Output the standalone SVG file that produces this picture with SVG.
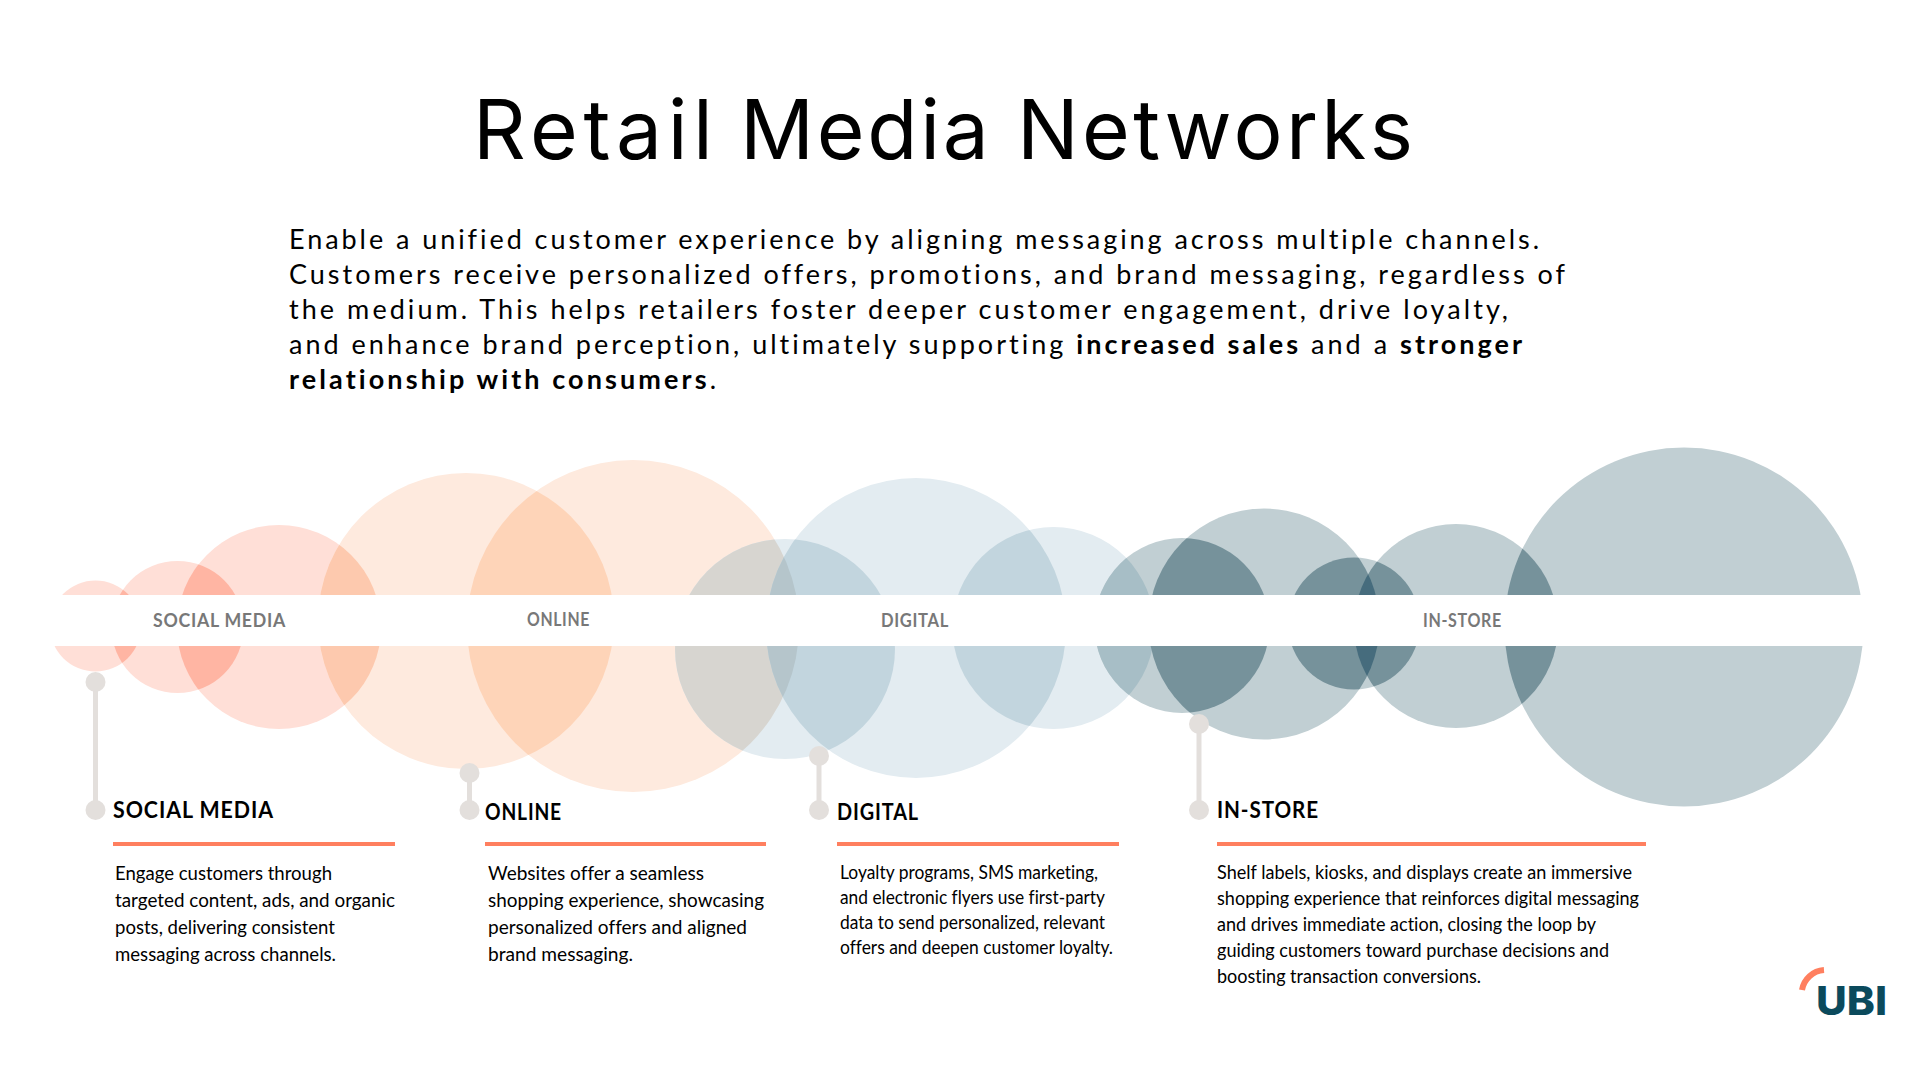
<svg xmlns="http://www.w3.org/2000/svg" width="1920" height="1080" viewBox="0 0 1920 1080">
<style>
text{font-family:"Lato","Liberation Sans",sans-serif;font-variant-ligatures:none}
.title{font-family:"Inter","Liberation Sans",sans-serif;font-size:82px;fill:#000}
.p{font-size:27px;fill:#000}
.b{font-weight:700}
.band{font-size:19.5px;font-weight:700;fill:#787878;letter-spacing:.8px}
.h{font-size:23px;font-weight:700;fill:#000;letter-spacing:1px}
.d{font-size:18.5px;fill:#000}
.dot{fill:#e3dfdc}
.stem{stroke:#e3dfdc;stroke-width:5;fill:none}
.rule{fill:#ff7f5f}
.s{fill:#ffdfd7}.o{fill:#feeade}.u{fill:#e3ecf1}.g{fill:#c1cfd3}
.ss{fill:#ffb5a3}.so{fill:#fdc9ae}.oo{fill:#fed4b8}.og{fill:#d7d5d0}.ogu{fill:#b5c5cb}.uu{fill:#c2d5de}.ug{fill:#a7bec6}.gg{fill:#76929b}.ggg{fill:#466c7d}
</style>
<defs>
<clipPath id="c1"><circle cx="95.5" cy="626" r="45.5"/></clipPath>
<clipPath id="c2"><circle cx="177.5" cy="627" r="66"/></clipPath>
<clipPath id="c3"><circle cx="279" cy="627" r="102"/></clipPath>
<clipPath id="c4"><circle cx="466" cy="621" r="148"/></clipPath>
<clipPath id="c5"><circle cx="633" cy="626" r="166"/></clipPath>
<clipPath id="c6"><circle cx="785" cy="649" r="110"/></clipPath>
<clipPath id="c7"><circle cx="916" cy="628" r="150"/></clipPath>
<clipPath id="c8"><circle cx="1053.5" cy="628" r="101"/></clipPath>
<clipPath id="c9"><circle cx="1182" cy="625.5" r="87.5"/></clipPath>
<clipPath id="c10"><circle cx="1264" cy="624" r="115.5"/></clipPath>
<clipPath id="c11"><circle cx="1354" cy="623.5" r="66"/></clipPath>
<clipPath id="c12"><circle cx="1456" cy="626" r="102"/></clipPath>
<clipPath id="c13"><circle cx="1684" cy="627" r="179.5"/></clipPath>
</defs>
<rect width="1920" height="1080" fill="#fff"/>
<g id="bubbles">
<circle class="s" cx="95.5" cy="626" r="45.5"/>
<circle class="s" cx="177.5" cy="627" r="66"/>
<circle class="s" cx="279" cy="627" r="102"/>
<circle class="o" cx="466" cy="621" r="148"/>
<circle class="o" cx="633" cy="626" r="166"/>
<circle class="u" cx="785" cy="649" r="110"/>
<circle class="u" cx="916" cy="628" r="150"/>
<circle class="u" cx="1053.5" cy="628" r="101"/>
<circle class="g" cx="1182" cy="625.5" r="87.5"/>
<circle class="g" cx="1264" cy="624" r="115.5"/>
<circle class="g" cx="1354" cy="623.5" r="66"/>
<circle class="g" cx="1456" cy="626" r="102"/>
<circle class="g" cx="1684" cy="627" r="179.5"/>
<g clip-path="url(#c1)"><circle class="ss" cx="177.5" cy="627" r="66"/></g>
<g clip-path="url(#c2)"><circle class="ss" cx="279" cy="627" r="102"/></g>
<g clip-path="url(#c3)"><circle class="so" cx="466" cy="621" r="148"/></g>
<g clip-path="url(#c4)"><circle class="oo" cx="633" cy="626" r="166"/></g>
<g clip-path="url(#c5)"><circle class="og" cx="785" cy="649" r="110"/></g>
<g clip-path="url(#c6)"><circle class="uu" cx="916" cy="628" r="150"/></g>
<g clip-path="url(#c5)"><g clip-path="url(#c6)"><circle class="ogu" cx="916" cy="628" r="150"/></g></g>
<g clip-path="url(#c7)"><circle class="uu" cx="1053.5" cy="628" r="101"/></g>
<g clip-path="url(#c8)"><circle class="ug" cx="1182" cy="625.5" r="87.5"/></g>
<g clip-path="url(#c9)"><circle class="gg" cx="1264" cy="624" r="115.5"/></g>
<g clip-path="url(#c10)"><circle class="gg" cx="1354" cy="623.5" r="66"/></g>
<g clip-path="url(#c11)"><circle class="gg" cx="1456" cy="626" r="102"/></g>
<g clip-path="url(#c10)"><circle class="gg" cx="1456" cy="626" r="102"/></g>
<g clip-path="url(#c10)"><g clip-path="url(#c11)"><circle class="ggg" cx="1456" cy="626" r="102"/></g></g>
<g clip-path="url(#c12)"><circle class="gg" cx="1684" cy="627" r="179.5"/></g>
</g>
<rect id="band" x="49" y="595" width="1815" height="51" fill="#fff"/>
<g id="band-labels">
<text class="band" x="153" y="627" textLength="133" lengthAdjust="spacingAndGlyphs">SOCIAL MEDIA</text>
<text class="band" x="527" y="626" textLength="63" lengthAdjust="spacingAndGlyphs">ONLINE</text>
<text class="band" x="881" y="627" textLength="68" lengthAdjust="spacingAndGlyphs">DIGITAL</text>
<text class="band" x="1423" y="627" textLength="79" lengthAdjust="spacingAndGlyphs">IN-STORE</text>
</g>
<text id="title" class="title" y="159"><tspan x="473" letter-spacing="5.5">Retail</tspan> <tspan x="740" letter-spacing="2.7">Media</tspan> <tspan x="1017" letter-spacing="3.3">Networks</tspan></text>
<g id="intro">
<text class="p" x="289" y="249" textLength="1250">Enable a unified customer experience by aligning messaging across multiple channels.</text>
<text class="p" x="289" y="284" textLength="1276">Customers receive personalized offers, promotions, and brand messaging, regardless of</text>
<text class="p" x="289" y="319" textLength="1219">the medium. This helps retailers foster deeper customer engagement, drive loyalty,</text>
<text class="p" x="289" y="354" textLength="1233">and enhance brand perception, ultimately supporting <tspan class="b">increased sales</tspan> and a <tspan class="b">stronger</tspan></text>
<text class="p" x="289" y="389" textLength="427"><tspan class="b">relationship with consumers</tspan>.</text>
</g>
<g id="connectors">
<line class="stem" x1="95.5" y1="682" x2="95.5" y2="810"/>
<line class="stem" x1="469.5" y1="773" x2="469.5" y2="810"/>
<line class="stem" x1="819" y1="756" x2="819" y2="810"/>
<line class="stem" x1="1199" y1="724" x2="1199" y2="810"/>
</g>
<g id="social-media">
<circle class="dot" cx="95.5" cy="682" r="10"/><circle class="dot" cx="95.5" cy="810" r="10"/>
<text class="h" x="113" y="818" textLength="161" lengthAdjust="spacingAndGlyphs">SOCIAL MEDIA</text>
<rect class="rule" x="113" y="842" width="282" height="4"/>
<text class="d" x="115" y="880" textLength="217" lengthAdjust="spacingAndGlyphs">Engage customers through</text>
<text class="d" x="115" y="907" textLength="280" lengthAdjust="spacingAndGlyphs">targeted content, ads, and organic</text>
<text class="d" x="115" y="934" textLength="220" lengthAdjust="spacingAndGlyphs">posts, delivering consistent</text>
<text class="d" x="115" y="961" textLength="221" lengthAdjust="spacingAndGlyphs">messaging across channels.</text>
</g>
<g id="online">
<circle class="dot" cx="469.5" cy="773" r="10"/><circle class="dot" cx="469.5" cy="810" r="10"/>
<text class="h" x="485" y="820" textLength="77" lengthAdjust="spacingAndGlyphs">ONLINE</text>
<rect class="rule" x="485" y="842" width="281" height="4"/>
<text class="d" x="488" y="880" textLength="216" lengthAdjust="spacingAndGlyphs">Websites offer a seamless</text>
<text class="d" x="488" y="907" textLength="276" lengthAdjust="spacingAndGlyphs">shopping experience, showcasing</text>
<text class="d" x="488" y="934" textLength="259" lengthAdjust="spacingAndGlyphs">personalized offers and aligned</text>
<text class="d" x="488" y="961" textLength="145" lengthAdjust="spacingAndGlyphs">brand messaging.</text>
</g>
<g id="digital">
<circle class="dot" cx="819" cy="756" r="10"/><circle class="dot" cx="819" cy="810" r="10"/>
<text class="h" x="837" y="820" textLength="82" lengthAdjust="spacingAndGlyphs">DIGITAL</text>
<rect class="rule" x="837" y="842" width="282" height="4"/>
<text class="d" x="840" y="879" textLength="258" lengthAdjust="spacingAndGlyphs">Loyalty programs, SMS marketing,</text>
<text class="d" x="840" y="904" textLength="265" lengthAdjust="spacingAndGlyphs">and electronic flyers use first-party</text>
<text class="d" x="840" y="929" textLength="265" lengthAdjust="spacingAndGlyphs">data to send personalized, relevant</text>
<text class="d" x="840" y="954" textLength="273" lengthAdjust="spacingAndGlyphs">offers and deepen customer loyalty.</text>
</g>
<g id="in-store">
<circle class="dot" cx="1199" cy="724" r="10"/><circle class="dot" cx="1199" cy="810" r="10"/>
<text class="h" x="1217" y="818" textLength="102" lengthAdjust="spacingAndGlyphs">IN-STORE</text>
<rect class="rule" x="1217" y="842" width="429" height="4"/>
<text class="d" x="1217" y="879" textLength="415" lengthAdjust="spacingAndGlyphs">Shelf labels, kiosks, and displays create an immersive</text>
<text class="d" x="1217" y="905" textLength="422" lengthAdjust="spacingAndGlyphs">shopping experience that reinforces digital messaging</text>
<text class="d" x="1217" y="931" textLength="379" lengthAdjust="spacingAndGlyphs">and drives immediate action, closing the loop by</text>
<text class="d" x="1217" y="957" textLength="392" lengthAdjust="spacingAndGlyphs">guiding customers toward purchase decisions and</text>
<text class="d" x="1217" y="983" textLength="264" lengthAdjust="spacingAndGlyphs">boosting transaction conversions.</text>
</g>
<g id="logo">
<path d="M1802 990A24 24 0 0 1 1824 970" fill="none" stroke="#ff7f5f" stroke-width="6"/>
<text x="1816" y="1015" textLength="71" lengthAdjust="spacingAndGlyphs" style="font-family:Inter,'Liberation Sans',sans-serif;font-size:40px;font-weight:800;fill:#0b4a5c">UBI</text>
</g>
</svg>
